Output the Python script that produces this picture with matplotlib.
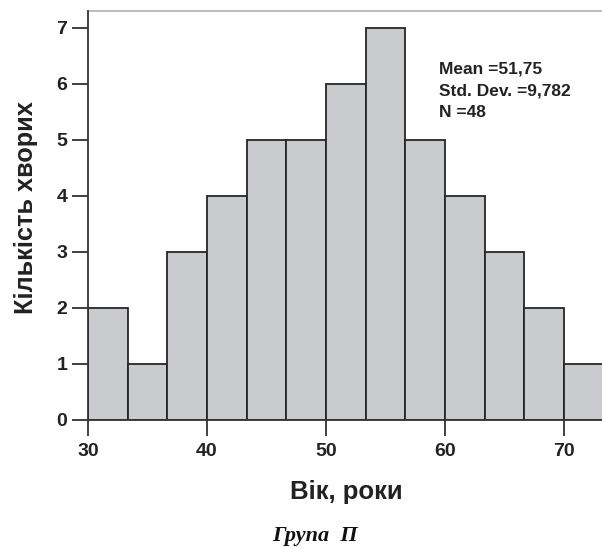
import matplotlib
matplotlib.use('Agg')
import matplotlib.pyplot as plt
import numpy as np

# Age histogram, group P
bin_edges = [30.0, 33.33, 36.67, 40.0, 43.33, 46.67, 50.0, 53.33,
             56.67, 60.0, 63.33, 66.67, 70.0, 73.33]
counts = [2, 1, 3, 4, 5, 5, 6, 7, 5, 4, 3, 2, 1]
x_ticks = [30, 40, 50, 60, 70]
y_ticks = [0, 1, 2, 3, 4, 5, 6, 7]
stats_lines = ['Mean =51,75', 'Std. Dev. =9,782', 'N =48']

W, H = 602, 548
plt.rcParams['font.family'] = ['Liberation Sans', 'DejaVu Sans']

fig = plt.figure(figsize=(W / 100, H / 100), dpi=100)
fig.patch.set_facecolor('white')
ax = fig.add_axes([88 / W, 128 / H, 514 / W, 409 / H])

edges = np.array(bin_edges)
ax.bar(edges[:-1], counts, width=np.diff(edges), align='edge',
       color='#cacbce', edgecolor='#262626', linewidth=1.3, zorder=2)

ax.set_xlim(30, 73.19)
ax.set_ylim(0, 7.30)
ax.set_xticks(x_ticks)
ax.set_yticks(y_ticks)

ax.spines['right'].set_visible(False)
ax.spines['top'].set_color('#b8b8b8')
ax.spines['top'].set_linewidth(1.3)
for side in ('left', 'bottom'):
    ax.spines[side].set_color('#333333')
    ax.spines[side].set_linewidth(1.3)
    ax.spines[side].set_zorder(3)

ax.tick_params(axis='both', length=11.5, width=1.3, color='#333333',
               labelsize=14, labelcolor='#222222')
ax.tick_params(axis='y', pad=3.5)
ax.tick_params(axis='x', pad=5)
for lbl in ax.get_xticklabels() + ax.get_yticklabels():
    lbl.set_fontweight('bold')

# axis titles
fig.text(346 / W, 1 - 499 / H, 'Вік, роки', fontsize=18.5, fontweight='bold',
         color='#222222', ha='center', va='baseline')
fig.text(33 / W, 1 - 208 / H, 'Кількість хворих', fontsize=18.3,
         fontweight='bold', color='#222222', rotation=90,
         rotation_mode='anchor', ha='center', va='baseline')

# summary statistics
for line, base in zip(stats_lines, [73, 95, 117]):
    fig.text(439 / W, 1 - base / H, line, fontsize=12.5, fontweight='bold',
             color='#222222', ha='left', va='baseline')

# caption
fig.text(315 / W, 1 - 541 / H, 'Група  П', family=['Liberation Serif'],
         fontsize=16, fontweight='bold', fontstyle='italic',
         color='#111111', ha='center', va='baseline')

fig.savefig('out.png', dpi=100)
